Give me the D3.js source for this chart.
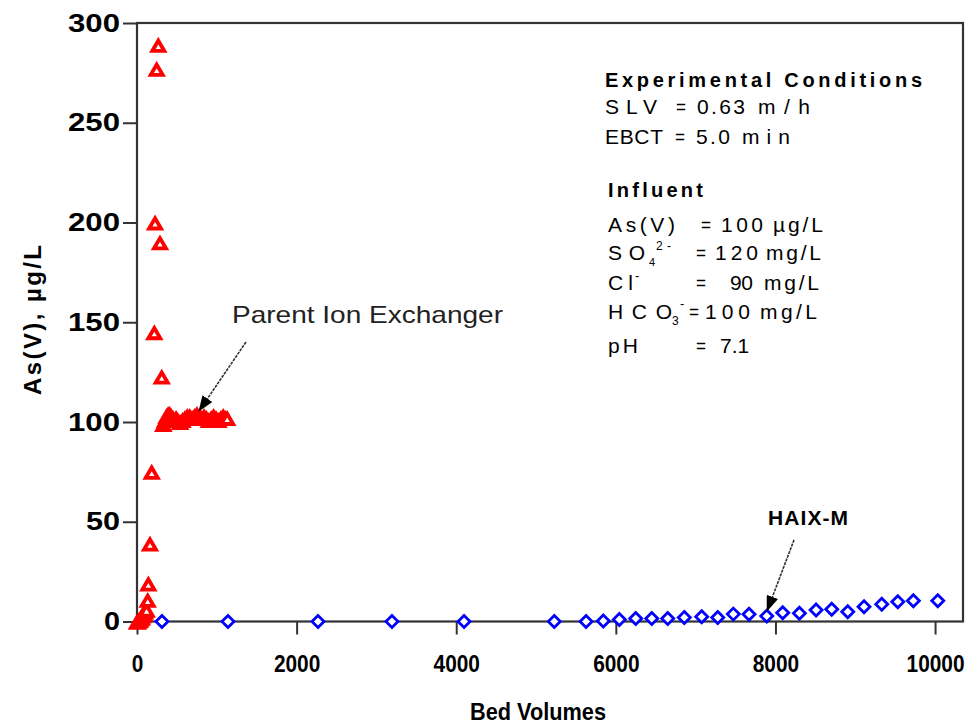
<!DOCTYPE html>
<html>
<head>
<meta charset="utf-8">
<script src="https://cdn.jsdelivr.net/npm/d3@7"></script>
<style>
  html, body { margin: 0; padding: 0; background: #fff; }
  svg { display: block; }
  text { font-family: "Liberation Sans", Arial, sans-serif; fill: #000; }
</style>
</head>
<body>
<svg id="chart" width="972" height="725"></svg>
<script>
// ---------------- data ----------------
const parentBV = [0, 10, 20, 30, 40, 50, 60, 70, 80, 90, 100, 110, 120, 134, 142, 163, 184, 217, 226, 247, 267, 288, 310,
  330, 350, 370, 390, 410, 430, 450, 470, 490, 510, 540, 570, 600, 630, 660, 690, 720, 750, 780, 810, 840, 870, 900,
  930, 960, 990, 1020, 1050, 1080, 1110, 1130];
const parentAs = [0, 0, 0.5, 1, 1, 2, 2, 3, 4, 4, 5, 6, 6, 10.8, 19, 39, 75, 145, 200, 277, 289, 190, 122.7,
  99, 101, 103, 104, 104, 103, 102, 101, 102, 101, 100, 101, 102, 103, 103, 102, 103, 104, 103, 102, 103,
  102, 101, 102, 103, 102, 101, 102, 103, 102, 102];

const haixBV = [313, 1140, 2268, 3195, 4098, 5229, 5627, 5843, 6044, 6249, 6450, 6650, 6858, 7076, 7277, 7472,
  7669, 7891, 8091, 8300, 8509, 8705, 8906, 9110, 9332, 9533, 9728, 10034];
const haixAs = [0, 0, 0, 0, 0, 0, 0, 0.3, 1, 1.5, 1.5, 1.5, 2, 2.4, 2, 3.7, 3.6, 2.7, 4.4, 4.1, 5.8, 6.1, 4.9,
  7.4, 8.6, 9.9, 10.4, 10.4];

const xTicks = [0, 2000, 4000, 6000, 8000, 10000];
const yTicks = [0, 50, 100, 150, 200, 250, 300];

const xTitle = "Bed Volumes";
const yTitle = "As(V), \u00b5g/L";

// ---------------- layout ----------------
const svg = d3.select("#chart");
const L = 137, R = 963, T = 23, B = 621.5;

const x = d3.scaleLinear().domain([0, 10350]).range([L, R]);
const y = d3.scaleLinear().domain([0, 300]).range([B, T]);

const axisColor = "#333";

// axes
const xAxis = svg.append("g")
  .attr("transform", `translate(0,${B})`)
  .call(d3.axisBottom(x).tickValues(xTicks).tickSize(13).tickPadding(20).tickFormat(d3.format("d")));
xAxis.select(".domain").remove();
xAxis.selectAll(".tick line").attr("stroke", axisColor).attr("stroke-width", 2);
xAxis.selectAll(".tick text")
  .style("font-size", "24px").style("font-weight", "bold")
  .attr("textLength", d => String(d).length * 11.6)
  .attr("lengthAdjust", "spacingAndGlyphs");

const yAxis = svg.append("g")
  .attr("transform", `translate(${L},0)`)
  .call(d3.axisLeft(y).tickValues(yTicks).tickSize(14).tickPadding(3).tickFormat(d3.format("d")));
yAxis.select(".domain").remove();
yAxis.selectAll(".tick line").attr("stroke", axisColor).attr("stroke-width", 2);
yAxis.selectAll(".tick text")
  .style("font-size", "25px").style("font-weight", "bold")
  .attr("textLength", d => String(d).length * 18 - 2)
  .attr("lengthAdjust", "spacingAndGlyphs");

// frame
svg.append("rect")
  .attr("x", L).attr("y", T).attr("width", R - L).attr("height", B - T)
  .attr("fill", "none").attr("stroke", axisColor).attr("stroke-width", 2.2);

// axis titles
svg.append("text")
  .attr("x", (x(0) + x(10350)) / 2 - 12).attr("y", 720)
  .attr("text-anchor", "middle")
  .style("font-size", "23px").style("font-weight", "bold")
  .attr("textLength", 136).attr("lengthAdjust", "spacingAndGlyphs")
  .text(xTitle);

svg.append("text")
  .attr("transform", `translate(41,${320}) rotate(-90)`)
  .attr("text-anchor", "middle")
  .style("font-size", "24px").style("font-weight", "bold")
  .attr("textLength", 150).attr("lengthAdjust", "spacing")
  .text(yTitle);

// ---------------- marks ----------------
const haix = haixBV.map((v, i) => ({ bv: v, as: haixAs[i] }));
const parent = parentBV.map((v, i) => ({ bv: v, as: parentAs[i] }));

const diamond = "M0,-6L6,0L0,6L-6,0Z";
const triangle = "M0,-4.3L6,6L-6,6Z";

svg.append("g").selectAll("path").data(haix).join("path")
  .attr("d", diamond)
  .attr("transform", d => `translate(${x(d.bv)},${y(d.as)})`)
  .attr("fill", "#fff").attr("stroke", "#0000ff").attr("stroke-width", 2.8);

svg.append("g").selectAll("path").data(parent).join("path")
  .attr("d", triangle)
  .attr("transform", d => `translate(${x(d.bv)},${y(d.as)})`)
  .attr("fill", "#fff").attr("stroke", "#ff0000").attr("stroke-width", 3.8)
  .attr("stroke-linejoin", "miter");

// ---------------- annotations ----------------
const defs = svg.append("defs");
defs.append("marker").attr("id", "ah")
  .attr("viewBox", "0 0 16 12").attr("refX", 15).attr("refY", 6)
  .attr("markerWidth", 16).attr("markerHeight", 12).attr("markerUnits", "userSpaceOnUse")
  .attr("orient", "auto")
  .append("path").attr("d", "M0,0L16,6L0,12Z").attr("fill", "#000");

const arrows = [
  { from: [1366, 140.1], to: [777, 105.5] },
  { from: [8233, 40.9], to: [7895, 5.3] }
];
svg.append("g").selectAll("line").data(arrows).join("line")
  .attr("x1", d => x(d.from[0])).attr("y1", d => y(d.from[1]))
  .attr("x2", d => x(d.to[0])).attr("y2", d => y(d.to[1]))
  .attr("stroke", "#333").attr("stroke-width", 1.6).attr("stroke-dasharray", "3 1")
  .attr("marker-end", "url(#ah)");

svg.append("text")
  .attr("x", x(1190)).attr("y", y(149.6))
  .style("font-size", "24px")
  .attr("textLength", 271).attr("lengthAdjust", "spacingAndGlyphs")
  .style("fill", "#222")
  .text("Parent Ion Exchanger");

svg.append("text")
  .attr("x", x(7907)).attr("y", y(48.4))
  .style("font-size", "21px").style("font-weight", "bold")
  .attr("textLength", 80).attr("lengthAdjust", "spacing")
  .text("HAIX-M");

// ---------------- conditions box ----------------
// tokens: [x, baseline, text, width, size, bold, adjust]
const G = "spacingAndGlyphs";
const EQ = 10;
const boxTokens = [
  [605, 86.5, "Experimental Conditions", 317, 20, true],
  [605, 113.5, "SLV", 52], [676, 113.5, "=", EQ, 21, false, G], [697, 113.5, "0.63", 48], [758, 113.5, "m/h", 52],
  [605, 143.5, "EBCT", 58], [675, 143.5, "=", EQ, 21, false, G], [696, 143.5, "5.0", 34], [742, 143.5, "min", 48],
  [608, 196.5, "Influent", 95, 20, true],
  [608, 231.5, "As(V)", 67], [701, 231.5, "=", EQ, 21, false, G], [721, 231.5, "100", 42], [773, 231.5, "\u00b5g/L", 50],
  [608, 260, "SO", 37], [649, 266, "4", 0, 11], [656, 250, "2-", 15, 12],
  [696, 260, "=", EQ, 21, false, G], [715, 260, "120", 43], [766, 260, "mg/L", 55],
  [608, 290, "Cl", 25], [635, 280, "-", 0, 13],
  [696, 290, "=", EQ, 21, false, G], [730, 290, "90", 23], [764, 290, "mg/L", 55],
  [608, 318.5, "HCO", 64], [672, 325, "3", 0, 12], [680, 308, "-", 0, 13],
  [689, 318.5, "=", EQ, 21, false, G], [705, 318.5, "100", 45], [760, 318.5, "mg/L", 57],
  [608, 353, "pH", 30], [696, 353, "=", EQ, 21, false, G], [720, 353, "7.1", 0]
];
svg.append("g").selectAll("text").data(boxTokens).join("text")
  .attr("x", d => d[0]).attr("y", d => d[1])
  .style("font-size", d => (d[4] || 21) + "px")
  .style("font-weight", d => d[5] ? "bold" : "normal")
  .each(function (d) {
    if (d[3]) d3.select(this).attr("textLength", d[3]).attr("lengthAdjust", d[6] || "spacing");
  })
  .text(d => d[2]);
</script>
</body>
</html>
